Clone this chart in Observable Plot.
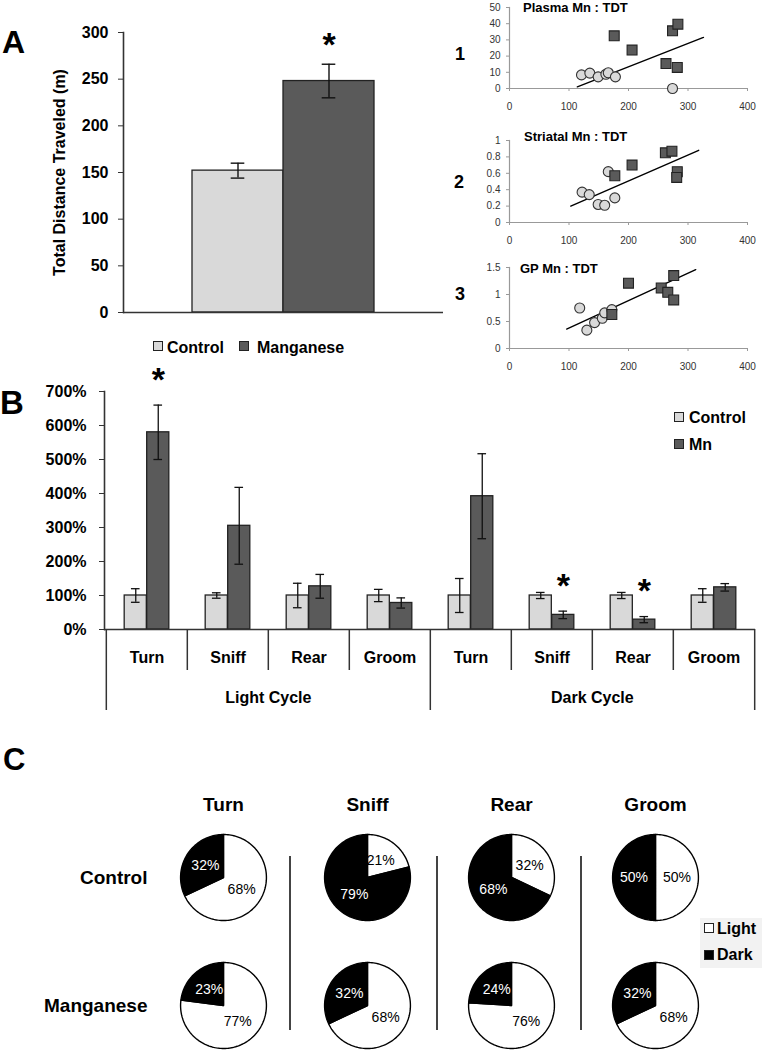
<!DOCTYPE html>
<html>
<head>
<meta charset="utf-8">
<script src="https://cdn.jsdelivr.net/npm/d3@7"></script>
<script src="https://cdn.jsdelivr.net/npm/@observablehq/plot@0.6"></script>
<style>
html,body{margin:0;padding:0;background:#fff;}
#fig{position:relative;width:763px;height:1050px;overflow:hidden;background:#fff;font-family:"Liberation Sans",Arial,sans-serif;color:#000;}
.t{position:absolute;line-height:1;white-space:nowrap;font-weight:bold;}
.sw{position:absolute;box-sizing:border-box;border:1px solid #222;}
.pw{position:absolute;}
.pw svg{overflow:visible;max-width:none;background:transparent;}
.vr{position:absolute;width:1.5px;background:#444;}
</style>
</head>
<body>
<div id="fig"></div>
<script>
// ---------------- Panel A data ----------------
const groupsA = ["Control", "Manganese"];
const distanceMean = [152, 248];
const distanceErr = [8, 18];
const distanceSig = [false, true];
const distanceTicks = [0, 50, 100, 150, 200, 250, 300];

// ---------------- Scatter data (TDT on x) ----------------
const scatterTitles = ["Plasma Mn : TDT", "Striatal Mn : TDT", "GP Mn : TDT"];
const scatterNumbers = ["1", "2", "3"];
const xTicksTDT = [0, 100, 200, 300, 400];

const plasmaControlX = [121, 135, 149, 162, 166, 178, 274];
const plasmaControlY = [8.4, 9.5, 7.2, 8.8, 9.7, 7.2, 0];
const plasmaMnX = [176, 206, 263, 274, 283, 282];
const plasmaMnY = [32.5, 23.7, 15.4, 35.6, 39.7, 13];
const plasmaFitX = [114, 326];
const plasmaFitY = [1, 31.5];
const plasmaTicks = [0, 10, 20, 30, 40, 50];

const striatalControlX = [122, 134, 149, 160, 166, 177];
const striatalControlY = [0.37, 0.34, 0.22, 0.21, 0.62, 0.30];
const striatalMnX = [177, 206, 262, 273, 282, 281];
const striatalMnY = [0.57, 0.70, 0.85, 0.87, 0.62, 0.55];
const striatalFitX = [103, 318];
const striatalFitY = [0.20, 0.88];
const striatalTicks = [0, 0.2, 0.4, 0.6, 0.8, 1];

const gpControlX = [118, 130, 143, 156, 160, 172];
const gpControlY = [0.75, 0.34, 0.48, 0.56, 0.66, 0.72];
const gpMnX = [172, 200, 255, 266, 276, 276];
const gpMnY = [0.63, 1.21, 1.12, 1.04, 0.90, 1.35];
const gpFitX = [96, 313];
const gpFitY = [0.36, 1.46];
const gpTicks = [0, 0.5, 1, 1.5];

// ---------------- Panel B data ----------------
const cycles = ["Light Cycle", "Dark Cycle"];
const behaviors = ["Turn", "Sniff", "Rear", "Groom"];
const groupsB = ["Control", "Mn"];
const controlPct = [100, 100, 100, 100, 100, 100, 100, 100];
const controlErr = [20, 8, 36, 18, 50, 9, 9, 20];
const mnPct = [580, 305, 127, 78, 392, 43, 29, 124];
const mnErr = [80, 113, 35, 15, 125, 11, 9, 11];
const mnSig = [true, false, false, false, false, true, true, false];
const pctTicks = [0, 100, 200, 300, 400, 500, 600, 700];

// ---------------- Panel C data ----------------
const pieGroups = ["Control", "Manganese"];
const pieTypes = ["Light", "Dark"];
const lightControl = [68, 21, 32, 50];
const darkControl = [32, 79, 68, 50];
const lightMn = [77, 68, 76, 68];
const darkMn = [23, 32, 24, 32];

// ---------------- helpers ----------------
const FONT = '"Liberation Sans", Arial, sans-serif';
const fig = document.getElementById("fig");
const colorCtl = "#d9d9d9", colorMn = "#5a5a5a";

function addPlot(svg, left, top, width) {
  const d = document.createElement("div");
  d.className = "pw";
  d.style.left = left + "px"; d.style.top = top + "px"; d.style.width = width + "px";
  d.appendChild(svg);
  fig.appendChild(d);
}
function addText(text, left, top, size, extra = {}) {
  const d = document.createElement("div");
  d.className = "t";
  d.textContent = text;
  d.style.left = left + "px"; d.style.top = top + "px"; d.style.fontSize = size + "px";
  Object.assign(d.style, extra);
  fig.appendChild(d);
  return d;
}
function addSwatch(left, top, size, fill) {
  const d = document.createElement("div");
  d.className = "sw";
  d.style.left = left + "px"; d.style.top = top + "px";
  d.style.width = size + "px"; d.style.height = size + "px"; d.style.background = fill;
  fig.appendChild(d);
}
function addRule(left, top, height) {
  const d = document.createElement("div");
  d.className = "vr";
  d.style.left = left + "px"; d.style.top = top + "px"; d.style.height = height + "px";
  fig.appendChild(d);
}

// ================= Panel A: bar chart =================
const rowsA = groupsA.map((g, i) => ({group: g, mean: distanceMean[i], err: distanceErr[i], sig: distanceSig[i]}));
const plotA = Plot.plot({
  width: 450, height: 330,
  marginLeft: 123, marginRight: 7, marginTop: 32, marginBottom: 18,
  style: {fontFamily: FONT, background: "transparent", color: "#000"},
  x: {domain: groupsA, paddingInner: 0, paddingOuter: 0.7486, axis: null},
  y: {domain: [0, 300], axis: null},
  color: {domain: groupsA, range: [colorCtl, colorMn]},
  marks: [
    Plot.barY(rowsA, {x: "group", y: "mean", fill: "group", stroke: "#222", strokeWidth: 1.3}),
    Plot.ruleX(rowsA, {x: "group", y1: d => d.mean - d.err, y2: d => d.mean + d.err, stroke: "#111", strokeWidth: 1.4}),
    Plot.tickY(rowsA, {x: "group", y: d => d.mean + d.err, inset: 38.7, stroke: "#111", strokeWidth: 1.4}),
    Plot.tickY(rowsA, {x: "group", y: d => d.mean - d.err, inset: 38.7, stroke: "#111", strokeWidth: 1.4}),
    Plot.text(rowsA.filter(d => d.sig), {x: "group", y: d => d.mean + d.err, text: () => "*", fontSize: 34, fontWeight: "bold", dy: -19}),
    Plot.ruleY([0], {stroke: "#333", strokeWidth: 1.6}),
    Plot.frame({anchor: "left", stroke: "#333", strokeWidth: 1.6}),
    Plot.axisY({ticks: distanceTicks, tickSize: 5, tickPadding: 10, stroke: "#333", fontSize: 16, fontWeight: "bold",
      label: "Total Distance Traveled (m)", labelAnchor: "center", labelOffset: 70, labelArrow: "none"})
  ]
});
addPlot(plotA, 0, 0, 450);
addText("A", 2, 26, 32);
// legend A
addSwatch(153, 341, 10, colorCtl);
addText("Control", 167, 340, 16);
addSwatch(239, 341, 10, colorMn);
addText("Manganese", 257, 340, 16);

// ================= Scatter plots =================
function pts(xs, ys) { return xs.map((x, i) => ({x, y: ys[i]})); }
function scatter(cfg) {
  return Plot.plot({
    width: 360, height: cfg.height,
    marginLeft: 109, marginRight: 13, marginTop: cfg.top, marginBottom: cfg.height - cfg.y0,
    style: {fontFamily: FONT, background: "transparent", color: "#333"},
    x: {domain: [0, 400], axis: null},
    y: {domain: [0, cfg.ymax], axis: null},
    marks: [
      Plot.ruleY([0], {stroke: "#999", strokeWidth: 1.2}),
      Plot.frame({anchor: "left", stroke: "#999", strokeWidth: 1.2}),
      Plot.axisX({ticks: xTicksTDT, tickSize: 3, tickPadding: 11, stroke: "#999", fill: "#333", fontSize: 10, label: null}),
      Plot.axisY({ticks: cfg.ticks, tickSize: 3, tickPadding: 6, stroke: "#999", fill: "#333", fontSize: 10,
        tickFormat: d3.format("~g"), label: null}),
      Plot.line(pts(cfg.fitX, cfg.fitY), {x: "x", y: "y", stroke: "#000", strokeWidth: 1.4}),
      Plot.dot(pts(cfg.cx, cfg.cy), {x: "x", y: "y", r: 5, fill: colorCtl, stroke: "#333", strokeWidth: 1.1}),
      Plot.dot(pts(cfg.mx, cfg.my), {x: "x", y: "y", r: 5.6, symbol: "square", fill: colorMn, stroke: "#222", strokeWidth: 1.1})
    ]
  });
}
addPlot(scatter({height: 120, top: 7, y0: 88, ymax: 50, ticks: plasmaTicks,
  cx: plasmaControlX, cy: plasmaControlY, mx: plasmaMnX, my: plasmaMnY, fitX: plasmaFitX, fitY: plasmaFitY}), 400, 0, 360);
addPlot(scatter({height: 130, top: 15, y0: 97, ymax: 1, ticks: striatalTicks,
  cx: striatalControlX, cy: striatalControlY, mx: striatalMnX, my: striatalMnY, fitX: striatalFitX, fitY: striatalFitY}), 400, 125, 360);
addPlot(scatter({height: 135, top: 22, y0: 103, ymax: 1.5, ticks: gpTicks,
  cx: gpControlX, cy: gpControlY, mx: gpMnX, my: gpMnY, fitX: gpFitX, fitY: gpFitY}), 400, 245, 360);
addText(scatterTitles[0], 523, 0.5, 13);
addText(scatterTitles[1], 524, 129.5, 13);
addText(scatterTitles[2], 520, 261.5, 13);
addText(scatterNumbers[0], 455, 44.5, 18);
addText(scatterNumbers[1], 454, 172.5, 18);
addText(scatterNumbers[2], 455, 284.5, 18);

// ================= Panel B =================
const keys = [];
cycles.forEach(c => behaviors.forEach(b => keys.push(c + "|" + b)));
const ctlRows = keys.map((k, i) => ({key: k, group: "Control", mean: controlPct[i], err: controlErr[i]}));
const mnRows = keys.map((k, i) => ({key: k, group: "Mn", mean: mnPct[i], err: mnErr[i], sig: mnSig[i]}));
const bW = 22.5, bw = (763 - 104 - 8) / keys.length, capIn = (bw - 9) / 2, plotHB = 238;
const plotB = Plot.plot({
  width: 763, height: 350,
  marginLeft: 104, marginRight: 8, marginTop: 21, marginBottom: 91,
  style: {fontFamily: FONT, background: "transparent", color: "#000"},
  x: {domain: keys, padding: 0, axis: null},
  y: {domain: [0, 700], axis: null},
  color: {domain: groupsB, range: [colorCtl, colorMn]},
  marks: [
    Plot.barY(ctlRows, {x: "key", y: "mean", fill: "group", stroke: "#222", strokeWidth: 1.3, insetLeft: bw / 2 - bW, insetRight: bw / 2}),
    Plot.barY(mnRows, {x: "key", y: "mean", fill: "group", stroke: "#222", strokeWidth: 1.3, insetLeft: bw / 2, insetRight: bw / 2 - bW}),
    Plot.ruleX(ctlRows, {x: "key", y1: d => d.mean - d.err, y2: d => d.mean + d.err, dx: -bW / 2, stroke: "#111", strokeWidth: 1.3}),
    Plot.ruleX(mnRows, {x: "key", y1: d => d.mean - d.err, y2: d => d.mean + d.err, dx: bW / 2, stroke: "#111", strokeWidth: 1.3}),
    Plot.tickY(ctlRows, {x: "key", y: d => d.mean + d.err, dx: -bW / 2, inset: capIn, stroke: "#111", strokeWidth: 1.3}),
    Plot.tickY(ctlRows, {x: "key", y: d => d.mean - d.err, dx: -bW / 2, inset: capIn, stroke: "#111", strokeWidth: 1.3}),
    Plot.tickY(mnRows, {x: "key", y: d => d.mean + d.err, dx: bW / 2, inset: capIn, stroke: "#111", strokeWidth: 1.3}),
    Plot.tickY(mnRows, {x: "key", y: d => d.mean - d.err, dx: bW / 2, inset: capIn, stroke: "#111", strokeWidth: 1.3}),
    Plot.text(mnRows.filter(d => d.sig), {x: "key", y: d => d.mean + d.err, text: () => "*", dx: bW / 2, dy: -25, fontSize: 34, fontWeight: "bold"}),
    Plot.ruleY([0], {stroke: "#333", strokeWidth: 1.6}),
    Plot.frame({anchor: "left", stroke: "#333", strokeWidth: 1.6}),
    Plot.ruleX(keys.filter((k, i) => i % 4 !== 0), {x: d => d, dx: -bw / 2, insetTop: plotHB, insetBottom: -41, stroke: "#333", strokeWidth: 1.5}),
    Plot.ruleX(keys.filter((k, i) => i % 4 === 0), {x: d => d, dx: -bw / 2, insetTop: plotHB, insetBottom: -81, stroke: "#333", strokeWidth: 1.5}),
    Plot.ruleX(keys.slice(-1), {x: d => d, dx: bw / 2, insetTop: plotHB, insetBottom: -81, stroke: "#333", strokeWidth: 1.5}),
    Plot.text(cycles, {x: (c, i) => keys[i * 4 + 2], text: d => d, frameAnchor: "bottom", dx: -bw / 2, dy: 73, fontSize: 16, fontWeight: "bold"}),
    Plot.axisX({tickSize: 0, tickPadding: 22, tickFormat: k => k.split("|")[1], fontSize: 16, fontWeight: "bold", label: null}),
    Plot.axisY({ticks: pctTicks, tickSize: 5, tickPadding: 13, tickFormat: d => d + "%", stroke: "#333", fontSize: 16, fontWeight: "bold", label: null})
  ]
});
addPlot(plotB, 0, 370, 763);
addText("B", 0, 385.5, 33);
addSwatch(674, 412, 10, colorCtl);
addText("Control", 689, 410, 16);
addSwatch(674, 439, 10, colorMn);
addText("Mn", 689, 437, 16);

// ================= Panel C: pies =================
const slices = [];
behaviors.forEach((b, i) => {
  pieGroups.forEach((g, gi) => {
    const light = gi === 0 ? lightControl[i] : lightMn[i];
    const dark = gi === 0 ? darkControl[i] : darkMn[i];
    slices.push({behavior: b, group: g, type: "Light", pct: light, start: 0, end: light / (light + dark)});
    slices.push({behavior: b, group: g, type: "Dark", pct: dark, start: light / (light + dark), end: 1});
  });
});
const outline = [];
slices.forEach((s, si) => {
  const n = Math.max(2, Math.ceil((s.end - s.start) * 180));
  outline.push({id: si, behavior: s.behavior, group: s.group, type: s.type, x: 0, y: 0});
  for (let j = 0; j <= n; j++) {
    const a = 2 * Math.PI * (s.start + (s.end - s.start) * j / n);
    outline.push({id: si, behavior: s.behavior, group: s.group, type: s.type, x: Math.sin(a), y: Math.cos(a)});
  }
  outline.push({id: si, behavior: s.behavior, group: s.group, type: s.type, x: 0, y: 0});
});
const labelPos = s => {
  const a = Math.PI * (s.start + s.end);
  return {x: 0.5 * Math.sin(a), y: 0.5 * Math.cos(a)};
};
const cellW = 577 / 4, pieR = 43, cellH = 90;
const plotC = Plot.plot({
  width: 763, height: 270,
  marginLeft: 150, marginRight: 36, marginTop: 52, marginBottom: 0,
  style: {fontFamily: FONT, background: "transparent", color: "#000"},
  fx: {domain: behaviors, padding: 0},
  fy: {domain: pieGroups, paddingInner: 0.297, paddingOuter: 0},
  x: {domain: [-cellW / 2 / pieR, cellW / 2 / pieR], axis: null},
  y: {domain: [-cellH / 2 / pieR, cellH / 2 / pieR], axis: null},
  color: {domain: pieTypes, range: ["#ffffff", "#000000"]},
  marks: [
    Plot.line(outline, {x: "x", y: "y", z: "id", fill: "type", stroke: "#000", strokeWidth: 1.4, strokeLinejoin: "round", fx: "behavior", fy: "group"}),
    Plot.text(slices.filter(s => s.type === "Light"), {x: s => labelPos(s).x, y: s => labelPos(s).y, text: s => s.pct + "%", fill: "#000", fontSize: 14, fx: "behavior", fy: "group"}),
    Plot.text(slices.filter(s => s.type === "Dark"), {x: s => labelPos(s).x, y: s => labelPos(s).y, text: s => s.pct + "%", fill: "#fff", fontSize: 14, fx: "behavior", fy: "group"}),
    Plot.axisFx({anchor: "top", tickSize: 0, tickPadding: 22, fontSize: 19, fontWeight: "bold", label: null}),
    Plot.axisFy({anchor: "left", tickSize: 0, tickPadding: 4, fontSize: 19, fontWeight: "bold", label: null})
  ]
});
addPlot(plotC, 0, 780, 763);
addText("C", 3, 744, 31);
addRule(289, 856, 174);
addRule(436, 856, 174);
addRule(580, 856, 174);
// legend C
const lg = document.createElement("div");
lg.style.cssText = "position:absolute;left:700px;top:918px;width:62px;height:50px;background:#f2f2f2;";
fig.appendChild(lg);
addSwatch(704, 923, 10, "#ffffff");
addText("Light", 717, 921, 16);
addSwatch(704, 950, 10, "#000000");
addText("Dark", 717, 947, 16);
</script>
</body>
</html>
